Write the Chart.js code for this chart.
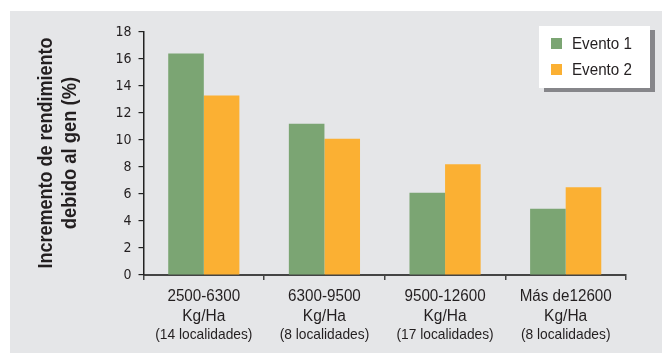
<!DOCTYPE html>
<html>
<head>
<meta charset="utf-8">
<script src="https://cdn.jsdelivr.net/npm/chart.js@4"></script>
<style>
  html, body { margin: 0; padding: 0; background: #ffffff; }
  #wrap { width: 662px; height: 353px; }
</style>
</head>
<body>
<div id="wrap"><canvas id="c" width="662" height="353"></canvas></div>
<script>
// Rendimiento por rango de productividad
const categories = [
  ['2500-6300', 'Kg/Ha', '(14 localidades)'],
  ['6300-9500', 'Kg/Ha', '(8 localidades)'],
  ['9500-12600', 'Kg/Ha', '(17 localidades)'],
  ['Más de12600', 'Kg/Ha', '(8 localidades)']
];
const seriesNames = ['Evento 1', 'Evento 2'];
const evento1 = [16.4, 11.2, 6.1, 4.9];
const evento2 = [13.3, 10.1, 8.2, 6.5];
const yTicks = [0, 2, 4, 6, 8, 10, 12, 14, 16, 18];
const yTitle = ['Incremento de rendimiento', 'debido al gen (%)'];

const FONT = '"Liberation Sans", Arial, sans-serif';
const TICK_FONT = '"DejaVu Sans Condensed", "Liberation Sans", sans-serif';
const TEXT = '#231f20';
const GREEN = '#7ba573';
const ORANGE = '#fbb033';

// text squeezed horizontally to get a condensed look
function drawText(ctx, s, x, y, font, sx, align) {
  ctx.save();
  ctx.font = font;
  ctx.textAlign = align;
  ctx.textBaseline = 'alphabetic';
  ctx.translate(x, y);
  ctx.scale(sx, 1);
  ctx.fillText(s, 0, 0);
  ctx.restore();
}

const decor = {
  id: 'decor',
  beforeDraw(chart) {
    const ctx = chart.ctx;
    ctx.save();
    ctx.fillStyle = '#e5e6e8';
    ctx.fillRect(10, 11, chart.width - 10, chart.height - 11);
    ctx.restore();
  },
  afterDraw(chart) {
    const ctx = chart.ctx;
    const xs = chart.scales.x;
    const area = chart.chartArea;
    ctx.save();
    ctx.fillStyle = TEXT;
    // category labels under the axis
    categories.forEach((lines, i) => {
      const x = xs.getPixelForValue(i);
      drawText(ctx, lines[0], x, area.bottom + 26, '16px ' + FONT, 0.95, 'center');
      drawText(ctx, lines[1], x, area.bottom + 46, '16px ' + FONT, 0.97, 'center');
      drawText(ctx, lines[2], x, area.bottom + 64, '14.5px ' + FONT, 0.95, 'center');
    });
    // vertical axis title
    ctx.save();
    ctx.translate(0, 153);
    ctx.rotate(-Math.PI / 2);
    drawText(ctx, yTitle[0], 0, 52, 'bold 20px ' + FONT, 0.9, 'center');
    drawText(ctx, yTitle[1], 0, 76, 'bold 20px ' + FONT, 0.92, 'center');
    ctx.restore();
    // legend box with drop shadow
    const lx = 539, ly = 26, lw = 111, lh = 62;
    ctx.fillStyle = '#86868a';
    ctx.fillRect(lx + 5, ly + 4, lw, lh);
    ctx.fillStyle = '#ffffff';
    ctx.fillRect(lx, ly, lw, lh);
    chart.data.datasets.forEach((ds, i) => {
      const ry = ly + 12 + i * 26;
      ctx.fillStyle = ds.backgroundColor;
      ctx.fillRect(lx + 12, ry, 11, 11);
      ctx.fillStyle = TEXT;
      drawText(ctx, ds.label, lx + 33, ry + 11, '16.5px ' + FONT, 0.92, 'left');
    });
    ctx.restore();
  }
};

new Chart(document.getElementById('c'), {
  type: 'bar',
  data: {
    labels: categories.map(c => c.join(' ')),
    datasets: [
      { label: seriesNames[0], data: evento1, backgroundColor: GREEN },
      { label: seriesNames[1], data: evento2, backgroundColor: ORANGE }
    ]
  },
  options: {
    responsive: false,
    animation: false,
    devicePixelRatio: 1,
    layout: { padding: { top: 32, right: 36, left: 0, bottom: 0 } },
    datasets: { bar: { barPercentage: 1, categoryPercentage: 0.59 } },
    plugins: { legend: { display: false }, tooltip: { enabled: false } },
    scales: {
      x: {
        offset: true,
        grid: { display: true, drawOnChartArea: false, offset: true, tickLength: 5, color: '#444444', lineWidth: 1.5 },
        border: { display: true, color: '#444444', width: 2 },
        ticks: { display: false },
        afterFit(s) { s.height = 78; }
      },
      y: {
        min: 0, max: 18,
        afterBuildTicks(s) { s.ticks = yTicks.map(v => ({ value: v })); },
        grid: { display: true, drawOnChartArea: false, tickLength: 5, color: '#222222', lineWidth: 1.2 },
        border: { display: true, color: '#222222', width: 1.5 },
        ticks: { color: TEXT, font: { family: TICK_FONT, size: 14 }, padding: 7 },
        afterFit(s) { s.width = 143.5; }
      }
    }
  },
  plugins: [decor]
});
</script>
</body>
</html>
